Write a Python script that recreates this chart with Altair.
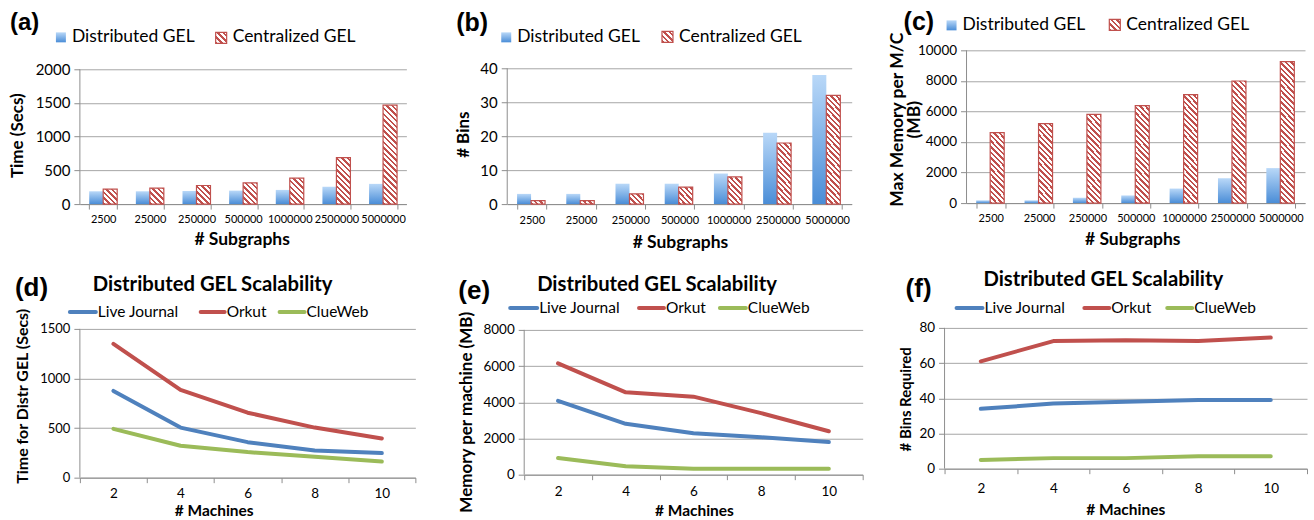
import altair as alt
import pandas as pd

# ---------------- data ----------------
subgraphs = ["2500", "25000", "250000", "500000", "1000000", "2500000", "5000000"]
bar_series = ["Distributed GEL", "Centralized GEL"]

time_dist = [190, 190, 195, 200, 210, 258, 300]
time_cent = [222, 236, 276, 315, 384, 690, 1468]
bins_dist = [3, 3, 6, 6, 9, 21, 38]
bins_cent = [1, 1, 3, 5, 8, 18, 32]
mem_dist = [180, 180, 350, 500, 950, 1620, 2290]
mem_cent = [4610, 5200, 5810, 6380, 7100, 7990, 9260]

machines = ["2", "4", "6", "8", "10"]
line_series = ["Live Journal", "Orkut", "ClueWeb"]
time_lj = [875, 505, 358, 275, 248]
time_orkut = [1350, 885, 655, 505, 395]
time_clue = [492, 322, 258, 212, 163]
mem_lj = [4080, 2810, 2290, 2070, 1800]
mem_orkut = [6150, 4550, 4310, 3400, 2400]
mem_clue = [920, 460, 330, 330, 330]
binsreq_lj = [34, 37, 38, 39, 39]
binsreq_orkut = [61, 72.5, 73, 72.5, 74.5]
binsreq_clue = [5, 6, 6, 7, 7]

# ---------------- style ----------------
FONT = "Lato"
TAG_FONT = "Liberation Sans"
GRID = "#a6a6a6"
AXIS = "#8e8e8e"
RED = "#c0504d"
LINE_COLORS = ["#4f81bd", "#c0504d", "#9bbb59"]

BLUE_GRAD = {
    "gradient": "linear", "x1": 0, "y1": 0, "x2": 0, "y2": 1,
    "stops": [{"offset": 0, "color": "#b9d8f8"}, {"offset": 1, "color": "#4a8dd7"}],
}


def hatch(w, h, q=5.6, red_frac=0.45):
    """Diagonal red/white stripes drawn with a hard-stop linear gradient."""
    w = max(w, 0.5)
    h = max(h, 0.5)
    L = w + h
    k = L / (w * w + h * h)
    stops = []
    pos, m = 0.0, 0
    while pos < L - 1e-9:
        seg = q * red_frac if m % 2 == 0 else q * (1 - red_frac)
        end = min(L, pos + seg)
        col = RED if m % 2 == 0 else "#ffffff"
        stops.append({"offset": round(pos / L, 5), "color": col})
        stops.append({"offset": round(end / L, 5), "color": col})
        pos, m = end, m + 1
    return {"gradient": "linear", "x1": 0, "y1": 1, "x2": k * w, "y2": 1 - k * h, "stops": stops}


def one_row(name="k"):
    return pd.DataFrame({name: [0]})


def frame_layer(x1, x2, y1, y2):
    return alt.Chart(one_row()).mark_rect(opacity=0).encode(
        x=alt.value(x1), x2=alt.value(x2), y=alt.value(y1), y2=alt.value(y2))


def text_layer(label, x, y, size, weight="normal", font=FONT, align="left"):
    return alt.Chart(pd.DataFrame({"t": [label]})).mark_text(
        font=font, fontSize=size, fontWeight=weight, align=align,
        baseline="middle", color="#000000",
    ).encode(x=alt.value(x), y=alt.value(y), text="t:N")


def swatch_layer(x1, x2, y1, y2, fill, stroke=None):
    kw = {"fill": fill}
    if stroke:
        kw.update(stroke=stroke, strokeWidth=1.2)
    return alt.Chart(one_row()).mark_rect(**kw).encode(
        x=alt.value(x1), x2=alt.value(x2), y=alt.value(y1), y2=alt.value(y2))


def line_key(x1, x2, y, color):
    return alt.Chart(one_row()).mark_rule(color=color, strokeWidth=4, strokeCap="round").encode(
        x=alt.value(x1), x2=alt.value(x2), y=alt.value(y))


def axis_line(top, ysc, yax):
    # left axis line from 0 up to the top tick, drawn through the shared y scale
    return alt.Chart(one_row()).mark_rule(color=AXIS, strokeWidth=1).encode(
        x=alt.value(0),
        y=alt.YDatum(datum=0, type="quantitative", scale=ysc, axis=yax),
        y2=alt.Y2Datum(datum=top))


def y_axis(values, title, tx, ty, tsize, lsize):
    return alt.Axis(
        values=values, format="d", title=title, titleX=tx, titleY=ty,
        titleFont=FONT, titleFontSize=tsize, titleFontWeight="bold", titleColor="#000000",
        titleAngle=270, titleAlign="center", titleBaseline="middle", titleLineHeight=17,
        labelFont=FONT, labelFontSize=lsize, labelColor="#000000", labelPadding=4,
        labelOverlap=False, tickSize=6, tickColor=AXIS, domain=False, gridColor=GRID, grid=True,
    )


def x_axis(title, tx, ty, tsize, lsize, lpad):
    return alt.Axis(
        title=title, titleX=tx, titleY=ty, titleFont=FONT, titleFontSize=tsize,
        titleFontWeight="bold", titleColor="#000000", titleAlign="center", titleBaseline="middle",
        labelFont=FONT, labelFontSize=lsize, labelColor="#000000", labelAngle=0,
        labelPadding=lpad, labelOverlap=False, tickBand="extent", tickSize=5,
        tickColor=AXIS, domainColor=AXIS, grid=False,
    )


def bar_panel(dist, cent, W, H, span, yticks, yax, xax, frame, tag, legend):
    n = len(subgraphs)
    ymax = yticks[-1]
    dmax = ymax * H / span
    bar_w = 0.3 * W / n
    df_d = pd.DataFrame({"cat": subgraphs, "series": bar_series[0], "value": dist})
    df_c = pd.DataFrame({"cat": subgraphs, "series": bar_series[1], "value": cent})
    xenc = alt.X("cat:N", sort=subgraphs,
                 scale=alt.Scale(domain=subgraphs, paddingInner=0.4, paddingOuter=0.2),
                 axis=x_axis(*xax))
    xoff = alt.XOffset("series:N", scale=alt.Scale(domain=bar_series, paddingInner=0, paddingOuter=0))
    ysc = alt.Scale(domain=[0, dmax], nice=False)
    yaxis = y_axis(yticks, *yax)
    yenc = alt.Y("value:Q", scale=ysc, axis=yaxis)
    blue = alt.Chart(df_d).mark_bar(fill=BLUE_GRAD).encode(x=xenc, xOffset=xoff, y=yenc)
    conds = [{"test": f"datum.cat == '{c}'", "value": hatch(bar_w, v / dmax * H)}
             for c, v in zip(subgraphs[:-1], cent[:-1])]
    fill = alt.FillValue(value=hatch(bar_w, cent[-1] / dmax * H), condition=conds)
    red = alt.Chart(df_c).mark_bar(stroke=RED, strokeWidth=1.2).encode(
        x=xenc, xOffset=xoff, y=yenc, fill=fill)
    (bx, by, rx, ry, ty, lsize) = legend
    layers = [
        frame_layer(*frame), blue, red, axis_line(ymax, ysc, yaxis),
        text_layer(tag[0], tag[1], tag[2], tag[3], weight="bold", font=TAG_FONT),
        swatch_layer(bx, bx + 10, by, by + 10, BLUE_GRAD),
        text_layer(bar_series[0], bx + 16, ty, lsize),
        swatch_layer(rx, rx + 11, ry, ry + 11, hatch(11, 11), stroke=RED),
        text_layer(bar_series[1], rx + 17, ty, lsize),
    ]
    return alt.layer(*layers).properties(width=W, height=H)


def line_panel(s1, s2, s3, W, H, span, yticks, yax, xax, frame, tag, title, keys):
    ymax = yticks[-1]
    dmax = ymax * H / span
    rows = []
    for name, vals in zip(line_series, [s1, s2, s3]):
        for m, v in zip(machines, vals):
            rows.append({"machine": m, "series": name, "value": v})
    df = pd.DataFrame(rows)
    ysc = alt.Scale(domain=[0, dmax], nice=False)
    yaxis = y_axis(yticks, *yax)
    lines = alt.Chart(df).mark_line(strokeWidth=4, strokeCap="round", strokeJoin="round").encode(
        x=alt.X("machine:N", sort=machines, bandPosition=0.5,
                scale=alt.Scale(type="band", domain=machines, paddingInner=0, paddingOuter=0),
                axis=x_axis(*xax)),
        y=alt.Y("value:Q", scale=ysc, axis=yaxis),
        color=alt.Color("series:N", scale=alt.Scale(domain=line_series, range=LINE_COLORS), legend=None),
        detail="series:N",
    )
    ky, ksize, items = keys
    layers = [frame_layer(*frame), axis_line(ymax, ysc, yaxis), lines,
              text_layer(tag[0], tag[1], tag[2], tag[3], weight="bold", font=TAG_FONT),
              text_layer(title[0], title[1], title[2], title[3], weight="bold", align="center")]
    for (x1, x2), name, col in zip(items, line_series, LINE_COLORS):
        layers.append(line_key(x1, x2, ky, col))
        layers.append(text_layer(name, x2 + 2, ky, ksize))
    return alt.layer(*layers).properties(width=W, height=H)


# Row 1 panels share a plot-area top (y = 50 on the page); row 2 panels share y = 328.
pa = bar_panel(time_dist, time_cent, 327, 154, 135, [0, 500, 1000, 1500, 2000],
               ("Time (Secs)", -62.5, 85, 17, 15),
               ("# Subgraphs", 162, 35, 17.5, 11, 4),
               (-80, 360, -50, 210), ("(a)", -70, -27, 24),
               (-24, -18, 136, -18, -13, 17.5))
pb = bar_panel(bins_dist, bins_cent, 345, 154, 136, [0, 10, 20, 30, 40],
               ("# Bins", -44, 84, 17, 15),
               ("# Subgraphs", 173, 38, 17.5, 11, 5),
               (-68, 362, -50, 210), ("(b)", -51, -27, 25),
               (-6, -18, 155, -19, -13, 17.5))
pc = bar_panel(mem_dist, mem_cent, 339, 153, 153, [0, 2000, 4000, 6000, 8000, 10000],
               (["Max Memory per M/C", "(MB)"], -69.5, 69, 17.5, 13.5),
               ("# Subgraphs", 166, 36, 17.5, 11, 4),
               (-98, 346, -50, 210), ("(c)", -63, -28, 25),
               (-20, -30, 143, -31, -25, 17.5))

pd_ = line_panel(time_lj, time_orkut, time_clue, 336, 150, 149, [0, 500, 1000, 1500],
                 ("Time for Distr GEL (Secs)", -57, 68, 16, 13),
                 ("# Machines", 134, 33, 15.5, 13.5, 4),
                 (-78, 362, -68, 192), ("(d)", -65, -40, 26),
                 ("Distributed GEL Scalability", 133, -43, 20.3),
                 (-16, 15.5, [(-10, 16), (121, 145), (200, 225)]))
pe = line_panel(mem_lj, mem_orkut, mem_clue, 339, 147, 145, [0, 2000, 4000, 6000, 8000],
                ("Memory per machine (MB)", -58, 84, 17, 13.5),
                ("# Machines", 170, 36, 15.5, 13.5, 5),
                (-83, 347, -68, 192), ("(e)", -66, -37, 26),
                ("Distributed GEL Scalability", 133, -43, 20.3),
                (-20, 15.5, [(-14, 13), (115, 140), (196, 222)]))
pf = line_panel(binsreq_lj, binsreq_orkut, binsreq_clue, 363, 141, 141, [0, 20, 40, 60, 80],
                ("# Bins Required", -39, 71, 15, 13.5),
                ("# Machines", 181, 41, 15.5, 13.5, 8),
                (-74, 370, -68, 192), ("(f)", -39, -38.5, 26),
                ("Distributed GEL Scalability", 159, -48, 20.3),
                (-20, 15.5, [(12, 38), (140, 165), (223, 248)]))

chart = alt.vconcat(
    alt.hconcat(pa, pb, pc, spacing=0),
    alt.hconcat(pd_, pe, pf, spacing=0),
    spacing=0,
).properties(padding=0, background="white").configure_view(strokeWidth=0)

chart.save("out.html", embed_options={"renderer": "svg", "actions": False})
